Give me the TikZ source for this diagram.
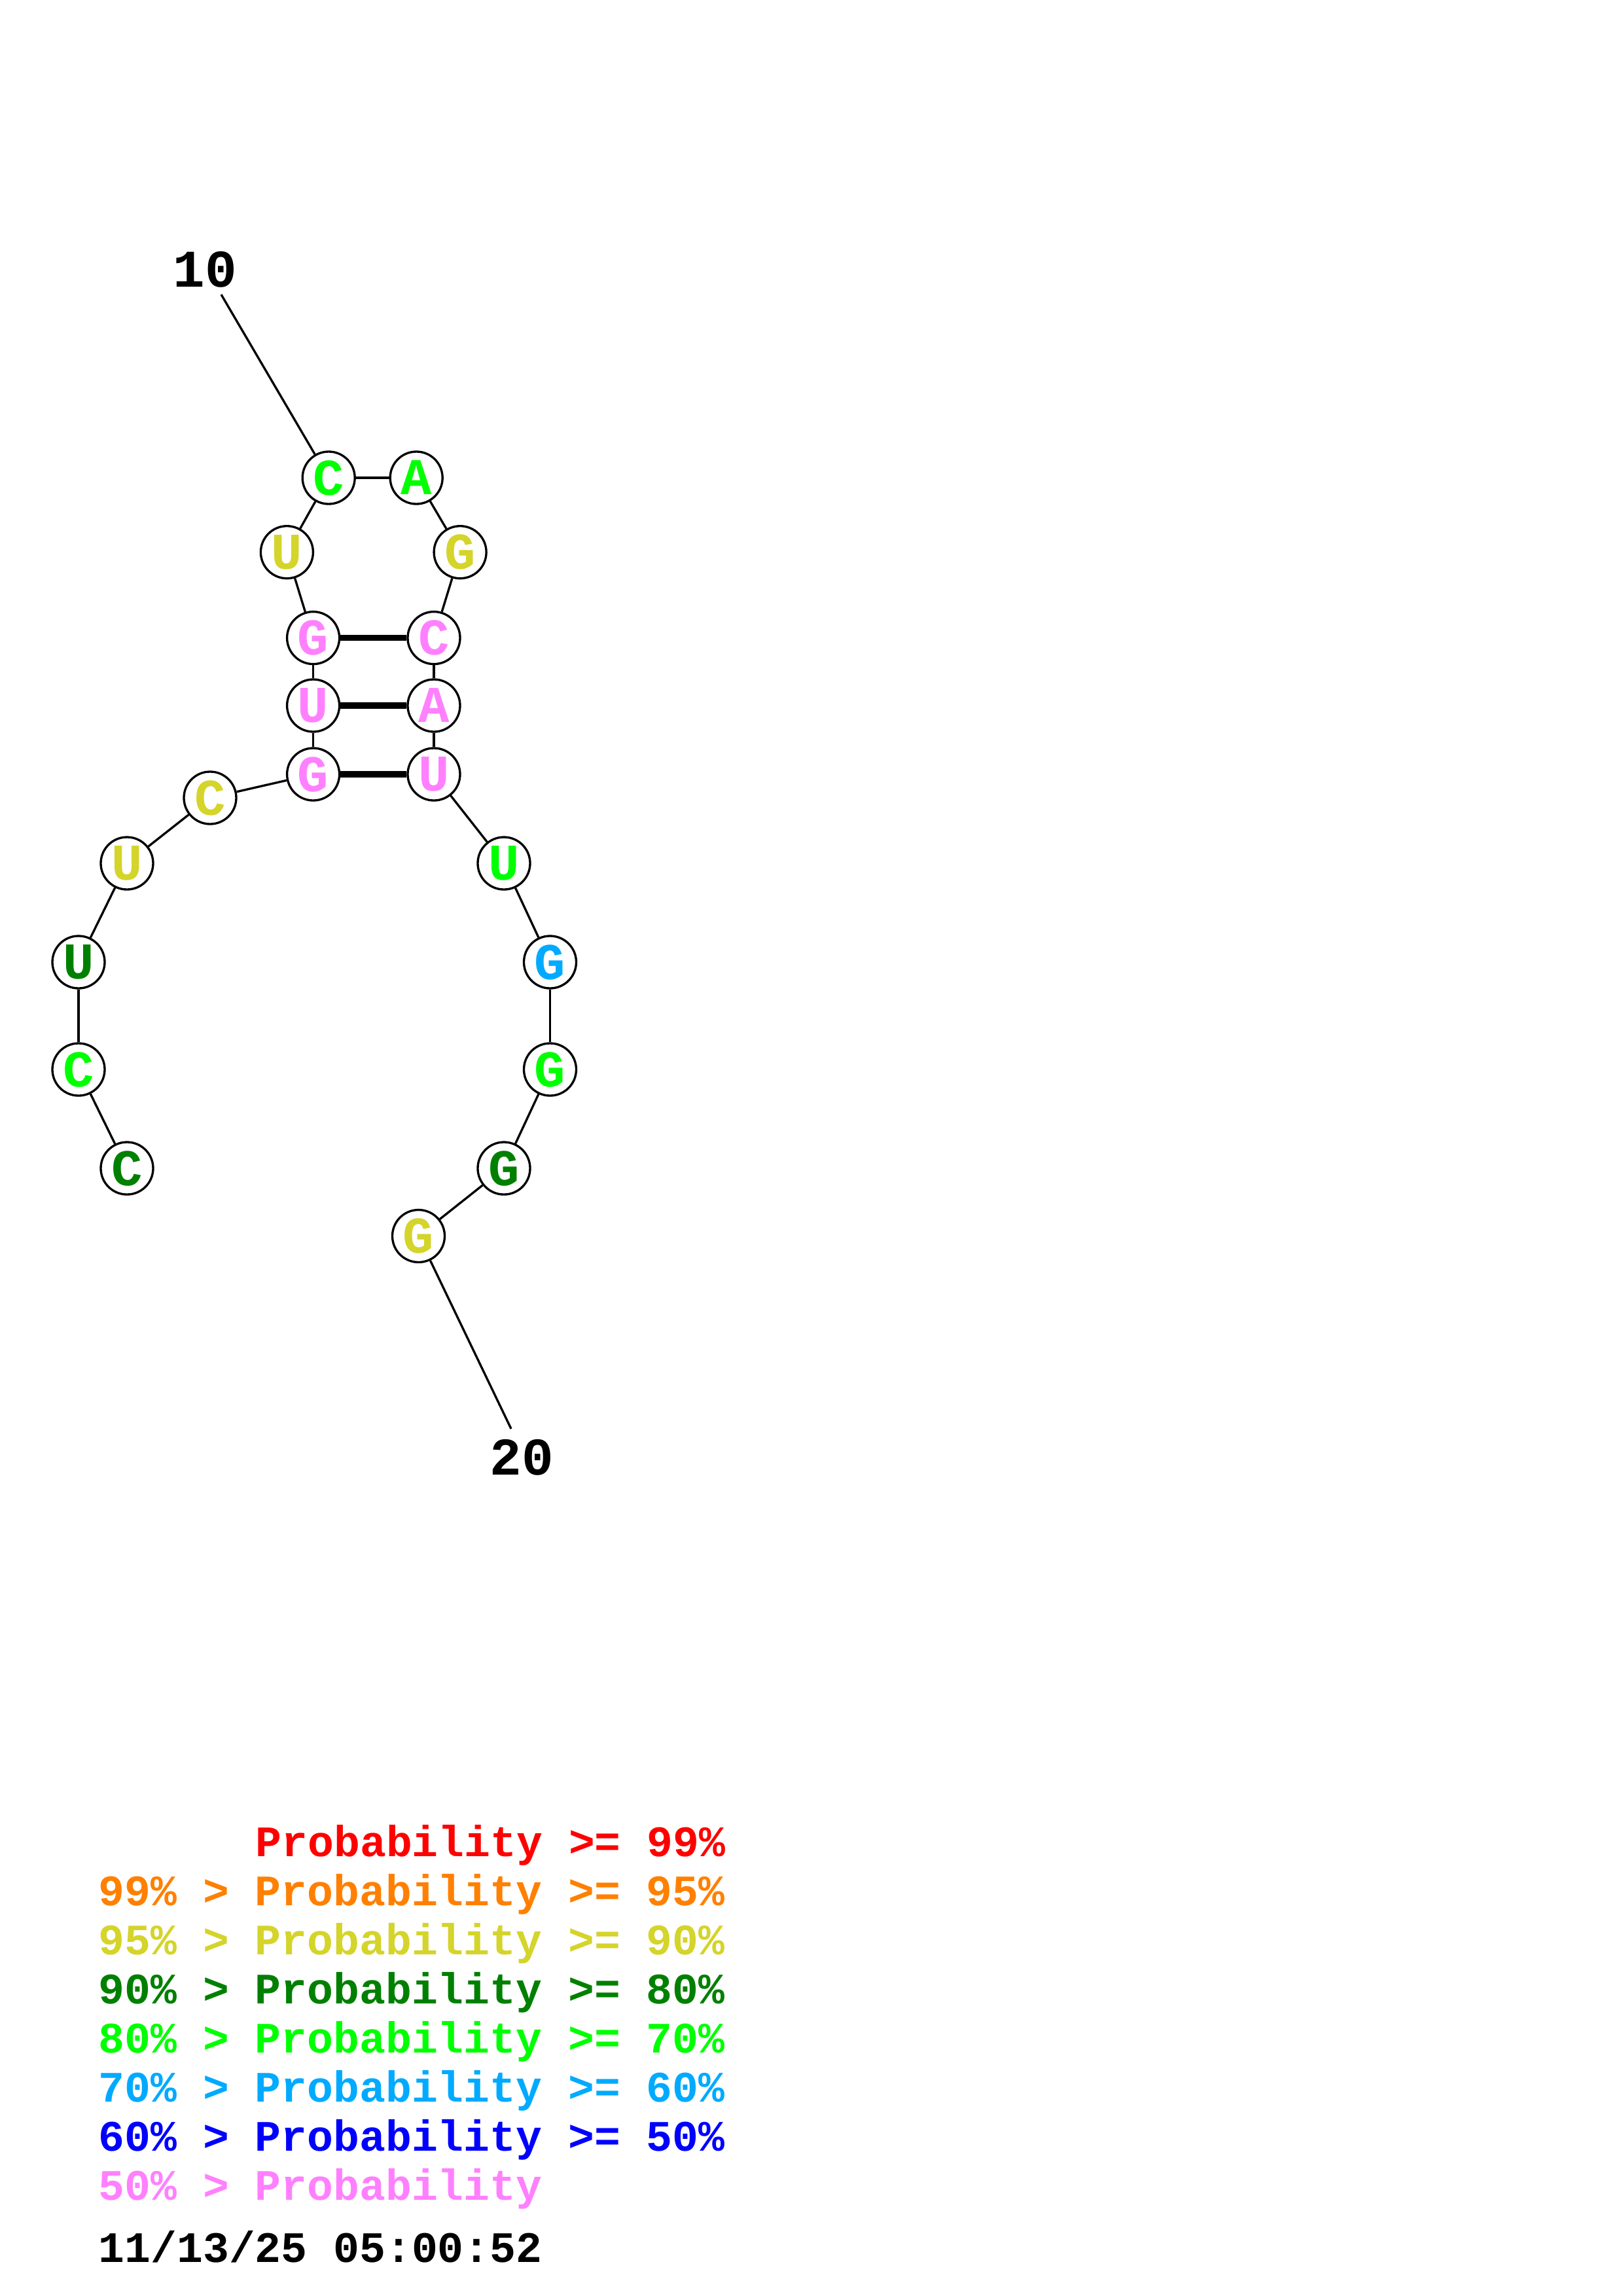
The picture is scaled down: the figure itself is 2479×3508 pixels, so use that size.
\documentclass[tikz,border=0pt]{standalone}
\usepackage{fontspec}
\setmonofont{Liberation Mono}
\usetikzlibrary{positioning}

% probability colours
\definecolor{pred}{RGB}{255,0,0}
\definecolor{porange}{RGB}{255,128,0}
\definecolor{pyellow}{RGB}{212,212,42}
\definecolor{pdkgreen}{RGB}{0,128,0}
\definecolor{pgreen}{RGB}{0,255,0}
\definecolor{psky}{RGB}{0,170,255}
\definecolor{pblue}{RGB}{0,0,255}
\definecolor{ppink}{RGB}{255,128,255}

\tikzset{
  nt/.style={circle, draw=black, line width=0.8bp, fill=white, inner sep=0pt,
    minimum size=19.2bp, text=#1,
    font=\ttfamily\bfseries\fontsize{19}{19}\selectfont},
  backbone/.style={line width=0.8bp},
  pairbond/.style={line width=2.2bp},
  numlabel/.style={font=\ttfamily\bfseries\fontsize{19.5}{19.5}\selectfont, inner sep=0pt},
  legend/.style={anchor=base west, inner sep=0pt,
    font=\ttfamily\bfseries\fontsize{16}{16}\selectfont}
}

\begin{document}
\begin{tikzpicture}[x=0.24bp, y=-0.24bp]
  \useasboundingbox (0,0) rectangle (2479,3508);

  % Nucleotidi
  \node[nt=pdkgreen] (n1)  at (194,1785)   {C};
  \node[nt=pgreen]   (n2)  at (120,1634)   {C};
  \node[nt=pdkgreen] (n3)  at (120,1470)   {U};
  \node[nt=pyellow]  (n4)  at (194,1319)   {U};
  \node[nt=pyellow]  (n5)  at (321,1219)   {C};
  \node[nt=ppink]    (n6)  at (478.6,1183) {G};
  \node[nt=ppink]    (n7)  at (478.6,1078) {U};
  \node[nt=ppink]    (n8)  at (478.6,974.6) {G};
  \node[nt=pyellow]  (n9)  at (438.4,843.7) {U};
  \node[nt=pgreen]   (n10) at (502.2,730)  {C};
  \node[nt=pgreen]   (n11) at (636.2,730)  {A};
  \node[nt=pyellow]  (n12) at (703.1,843.7) {G};
  \node[nt=ppink]    (n13) at (663,974.6)  {C};
  \node[nt=ppink]    (n14) at (663,1078)   {A};
  \node[nt=ppink]    (n15) at (663,1183)   {U};
  \node[nt=pgreen]   (n16) at (770,1319)   {U};
  \node[nt=psky]     (n17) at (840.5,1470) {G};
  \node[nt=pgreen]   (n18) at (840.5,1634) {G};
  \node[nt=pdkgreen] (n19) at (770,1785)   {G};
  \node[nt=pyellow]  (n20) at (639.5,1888.5) {G};

  % Backbone e coppie
  \foreach \i [evaluate=\i as \j using int(\i+1)] in {1,...,19}
    \draw[backbone] (n\i) -- (n\j);
  \foreach \a/\b in {6/15, 7/14, 8/13}
    \draw[pairbond] (n\a) -- (n\b);

  % Numerazione
  \node[numlabel] (lab10) at (313.5,412) {10};
  \coordinate (tick10) at (338,450);
  \draw[backbone] (tick10) -- (n10);
  \node[numlabel] (lab20) at (797,2227) {20};
  \coordinate (tick20) at (781,2183);
  \draw[backbone] (n20) -- (tick20);

  % Legenda
  \node[legend, text=pred] (leg1) at (390,2836) {Probability >= 99\%};
  \foreach \k/\col/\txt [evaluate=\k as \yy using 2836+75*(\k-1)] in {
      2/porange/{99\% > Probability >= 95\%},
      3/pyellow/{95\% > Probability >= 90\%},
      4/pdkgreen/{90\% > Probability >= 80\%},
      5/pgreen/{80\% > Probability >= 70\%},
      6/psky/{70\% > Probability >= 60\%},
      7/pblue/{60\% > Probability >= 50\%},
      8/ppink/{50\% > Probability}}
    \node[legend, text=\col] (leg\k) at (150,\yy) {\txt};
  \node[legend, text=black] (stamp) at (150,3456) {11/13/25 05:00:52};
\end{tikzpicture}
\end{document}
